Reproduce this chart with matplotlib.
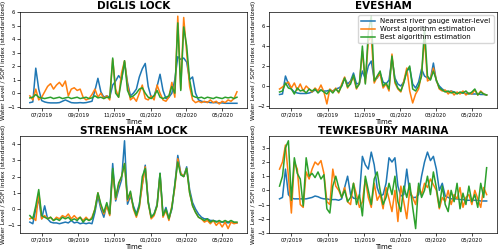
import matplotlib
matplotlib.use("Agg")
import matplotlib.pyplot as plt
import matplotlib.dates as mdates
import numpy as np
import pandas as pd

# sample dates (every 5 days)
dates = pd.date_range("2019-06-11", periods=71, freq="5D")

titles = ["DIGLIS LOCK", "EVESHAM", "STRENSHAM LOCK", "TEWKESBURY MARINA"]
labels = ["Nearest river gauge water-level", "Worst algorithm estimation",
          "Best algorithm estimation"]

# DIGLIS LOCK
dg_gauge = [-0.70, -0.65, 1.85, 0.3, -0.55, -0.65, -0.70, -0.72, -0.72, -0.72,
            -0.70, -0.60, -0.50, -0.60, -0.70, -0.72, -0.72, -0.70, -0.72, -0.70,
            -0.65, -0.60, 0.2, 1.1, 0.1, -0.3, -0.2, -0.3, 0.6, 0.9,
            1.3, 1.0, 2.3, 0.8, -0.2, 0.0, 0.3, 1.2, 1.8, 2.2,
            0.5, -0.3, -0.2, 0.5, 1.4, 0.2, -0.4, -0.3, 0.0, 1.0,
            2.7, 2.5, 2.6, 2.3, 1.0, 1.2, 0.0, -0.5, -0.6, -0.65,
            -0.65, -0.7, -0.7, -0.7, -0.72, -0.72, -0.75, -0.75, -0.75, -0.75, -0.75]
dg_worst = [-0.2, -0.5, 0.3, -0.5, -0.3, 0.1, 0.5, 0.7, 0.3, 0.6,
            0.8, 0.5, 0.9, -0.2, 0.3, 0.4, 0.2, 0.3, -0.3, -0.5,
            -0.4, -0.1, 0.3, -0.3, 0.0, -0.4, -0.2, -0.5, 2.5, 0.3,
            -0.3, 1.5, 2.4, 0.6, -0.5, -0.3, -0.6, 0.0, 0.6, -0.4,
            -0.5, -0.2, -0.5, 0.6, 0.0, -0.5, -0.6, -0.3, 0.8, -0.3,
            5.7, 0.3, 5.6, 3.0, 0.5, -0.5, -0.7, -0.6, -0.7, -0.6,
            -0.7, -0.5, -0.7, -0.6, -0.8, -0.6, -0.7, -0.5, -0.6, -0.4, 0.1]
dg_best = [-0.35, -0.3, -0.1, -0.3, -0.35, -0.4, -0.35, -0.3, -0.4, -0.35,
           -0.3, -0.4, -0.35, -0.3, -0.4, -0.35, -0.3, -0.4, -0.35, -0.3,
           -0.4, -0.35, -0.2, -0.35, -0.3, -0.4, -0.3, -0.35, 2.6, 0.0,
           -0.3, 1.0, 2.4, 0.2, -0.3, -0.2, 0.0, 0.3, 0.4, 0.0,
           -0.3, -0.4, -0.2, 0.2, -0.3, -0.4, -0.3, -0.2, 0.5, 0.0,
           5.2, 0.2, 4.9, 3.5, 1.0, -0.2, -0.3, -0.35, -0.3, -0.4,
           -0.3, -0.35, -0.4, -0.3, -0.35, -0.4, -0.3, -0.35, -0.3, -0.4, -0.3]

# EVESHAM
ev_gauge = [-0.85, -0.8, 1.0, 0.2, -0.3, -0.6, -0.7, -0.75, -0.75, -0.75,
            -0.7, -0.6, -0.4, -0.5, -0.4, -0.5, -0.5, -0.4, -0.5, -0.3,
            -0.2, 0.0, 0.8, 0.2, 0.5, 1.3, 0.2, 0.3, 1.5, 0.7,
            2.0, 2.5, 0.6, 0.8, 1.3, 0.4, 0.2, 0.6, 2.8, 0.8,
            0.2, 0.0, 0.4, 1.5, 1.8, 0.2, -0.2, 0.4, 1.7, 1.0,
            0.8, 0.7, 2.3, 0.5, 0.0, -0.3, -0.5, -0.6, -0.5, -0.6,
            -0.7, -0.7, -0.7, -0.75, -0.75, -0.8, -0.8, -0.8, -0.85, -0.85, -0.9]
ev_worst = [-0.3, -0.1, 0.2, 0.4, -0.2, 0.3, -0.4, 0.2, -0.5, 0.0,
            -0.3, -0.6, -0.2, -0.5, 0.1, -0.6, -1.8, -0.3, -0.6, -0.2,
            -0.7, 0.2, 0.9, -0.2, 0.4, 0.9, -0.3, 0.3, 3.5, 0.3,
            4.5, 5.0, 0.3, 0.9, 1.2, -0.2, 0.2, -0.5, 3.2, 0.3,
            -0.3, -0.6, 0.5, 1.8, -0.5, -1.7, -0.8, -0.3, 1.2, 4.8,
            0.5, 0.7, 1.8, 0.6, -0.3, -0.5, -0.4, -0.8, -0.5, -0.9,
            -0.6, -0.8, -0.5, -0.9, -0.7, -0.8, -0.4, -0.9, -0.5, -0.8, -0.9]
ev_best = [-0.6, -0.5, 0.3, -0.2, -0.3, -0.8, -0.2, -0.5, -0.4, -0.7,
           -0.3, -0.5, -0.3, -0.7, -0.4, -0.6, -0.8, -0.4, -0.7, -0.3,
           -0.6, 0.0, 0.8, -0.1, 0.2, 1.1, -0.2, 0.2, 4.0, 0.2,
           5.4, 7.0, 0.5, 1.0, 1.5, 0.0, 0.3, -0.3, 3.0, 0.5,
           -0.2, -0.5, 0.3, 1.5, 2.0, -0.3, -0.5, 0.0, 1.0, 5.8,
           1.0, 0.6, 1.5, 0.6, -0.2, -0.4, -0.6, -0.5, -0.7, -0.6,
           -0.8, -0.6, -0.7, -0.5, -0.8, -0.6, -0.3, -0.9, -0.6, -0.8, -0.9]

# STRENSHAM LOCK
st_gauge = [-0.8, -0.9, 0.0, 0.6, -0.6, 0.2, -0.6, -0.8, -0.85, -0.85,
            -0.9, -0.85, -0.8, -0.85, -0.7, -0.85, -0.8, -0.9, -0.85, -0.9,
            -0.85, -0.9, -0.2, 0.8, 0.0, -0.5, 0.3, -0.3, 2.8, 0.5,
            1.2, 1.8, 4.2, 0.3, 0.8, 0.2, -0.3, 0.3, 1.5, 2.7,
            0.5, -0.5, -0.3, 0.3, 2.2, -0.4, 0.1, -0.6, 0.0, 1.5,
            3.3, 2.2, 2.0, 2.6, 1.2, 0.4, 0.0, -0.3, -0.5, -0.6,
            -0.6, -0.7, -0.7, -0.75, -0.8, -0.8, -0.8, -0.85, -0.8, -0.85, -0.85]
st_worst = [-0.6, -0.5, -0.7, 1.0, -0.6, -0.4, -0.6, -0.5, -0.7, -0.5,
            -0.6, -0.4, -0.5, -0.3, -0.6, -0.4, -0.6, -0.5, -0.7, -0.5,
            -0.7, -0.5, 0.0, 1.0, 0.2, -0.3, 0.2, -0.4, 2.3, 0.6,
            1.5, 2.0, 2.8, 0.5, 1.0, 0.0, -0.5, 0.1, 1.5, 2.6,
            0.4, -0.6, -0.4, 0.2, 2.1, -0.5, -0.1, -0.7, 0.2, 1.3,
            3.1, 2.2, 2.0, 2.5, 1.0, 0.2, -0.2, -0.5, -0.6, -0.8,
            -0.7, -0.9, -0.7, -1.0, -0.8, -1.1, -0.8, -1.2, -0.8, -0.9, -0.85]
st_best = [-0.4, -0.6, 0.2, 1.2, -0.4, -0.5, -0.6, -0.5, -0.7, -0.6,
           -0.7, -0.5, -0.6, -0.5, -0.7, -0.6, -0.7, -0.5, -0.8, -0.6,
           -0.7, -0.6, 0.0, 1.0, 0.3, -0.2, 0.4, -0.3, 2.5, 0.7,
           1.6, 2.0, 2.8, 0.6, 1.1, 0.1, -0.4, 0.2, 2.0, 2.5,
           0.4, -0.5, -0.3, 0.2, 2.2, -0.4, 0.0, -0.6, 0.1, 1.5,
           2.9, 2.1, 2.0, 2.5, 1.0, 0.2, -0.2, -0.5, -0.6, -0.7,
           -0.6, -0.8, -0.7, -0.8, -0.7, -0.8, -0.7, -0.8, -0.7, -0.8, -0.8]

# TEWKESBURY MARINA
tw_gauge = [-0.6, -0.5, 1.5, -0.3, -0.55, -0.6, -0.6, -0.6, -0.6, -0.6,
            -0.55, -0.5, -0.4, -0.45, -0.55, -0.6, -0.6, -0.65, -0.65, -0.65,
            -0.7, -0.6, 0.2, 1.0, -0.3, -0.55, -0.6, -0.4, 2.4, 1.8,
            1.5, 2.7, 1.8, 0.2, -0.4, -0.3, 0.5, 2.3, 2.0, 2.3,
            0.3, -0.4, -0.3, 1.5, -0.2, -0.5, -0.5, -0.3, 1.0, 2.0,
            2.7, 2.1, 2.4, 1.5, 0.0, 0.5, -0.4, -0.5, -0.6, -0.6,
            -0.6, -0.65, -0.65, -0.7, -0.7, -0.7, -0.7, -0.7, -0.75, -0.75, -0.75]
tw_worst = [1.5, 2.0, 3.2, 1.0, -1.6, 2.0, 1.5, -1.0, -1.2, 1.3,
            0.8, 1.5, 2.0, 1.8, 2.1, 1.2, -0.8, -1.0, 1.5, 0.3,
            0.0, -0.5, 0.2, -0.8, -1.0, 0.5, -0.3, -1.2, -0.8, 0.8,
            -0.5, -1.2, 0.5, -0.7, -0.3, -1.3, 0.2, -0.6, -1.5, 0.0,
            -2.2, 0.3, -0.8, -2.0, 0.0, -0.5, -1.0, 0.3, -0.3, 0.5,
            0.2, 0.8, 0.4, 0.0, -1.3, -0.5, -0.8, 0.0, -1.0, -0.3,
            -0.6, 0.2, -1.2, -0.5, -0.3, -1.0, 0.0, -0.6, -1.2, 0.2, -0.3]
tw_best = [0.3, 1.0, 3.0, 3.5, -0.7, 2.3, 1.2, 0.8, -1.1, 2.3,
           1.0, 1.2, 0.9, 1.3, 0.8, 1.1, -1.3, -1.6, 0.3, 1.0,
           0.2, -0.5, 0.0, -0.8, -0.5, 0.5, -1.0, -0.3, -1.8, 1.0,
           0.0, -1.0, 0.8, 1.3, 0.0, -1.0, -0.5, 0.5, -0.3, 1.0,
           -0.8, -1.5, 0.3, -0.5, 0.5, -1.2, -2.7, 0.5, -0.5, 0.0,
           1.0, -0.3, 1.3, 0.2, -1.2, 0.3, -1.0, -1.5, 0.0, -0.8,
           0.5, -1.3, -0.2, -1.0, 0.3, -0.8, -0.3, -1.2, 0.5, -0.5, 1.6]

series = [(dg_gauge, dg_worst, dg_best), (ev_gauge, ev_worst, ev_best),
          (st_gauge, st_worst, st_best), (tw_gauge, tw_worst, tw_best)]
yticks = [np.arange(-1, 7, 1), np.arange(-2, 8, 2), np.arange(-1, 5, 1),
          np.arange(-3, 4, 1)]

fig, axes = plt.subplots(2, 2, figsize=(5, 2.5), dpi=100)
fig.subplots_adjust(left=0.039, right=0.994, top=0.953, bottom=0.068,
                    wspace=0.096, hspace=0.29)

for k, ax in enumerate(axes.flat):
    g, w, b = series[k]
    ax.plot(dates, g, color="tab:blue", lw=1.1, label=labels[0])
    ax.plot(dates, w, color="tab:orange", lw=1.1, label=labels[1])
    ax.plot(dates, b, color="tab:green", lw=1.1, label=labels[2])
    ax.set_title(titles[k], fontsize=7.5, fontweight="bold", pad=2)
    ax.set_xlabel("Time", fontsize=5)
    ax.set_ylabel("Water Level / SOFI index (standardized)", fontsize=4.3)
    ax.xaxis.set_label_coords(0.5, -0.115)
    ax.yaxis.set_label_coords(-0.058, 0.5)
    ax.set_yticks(yticks[k])
    ax.xaxis.set_major_locator(mdates.MonthLocator(bymonth=[1, 3, 5, 7, 9, 11]))
    ax.xaxis.set_major_formatter(mdates.DateFormatter("%m/%Y"))
    ax.tick_params(labelsize=3.8, length=2, width=0.5, pad=1)
    for s in ax.spines.values():
        s.set_linewidth(0.5)
    if k == 1:
        ax.legend(loc="upper right", fontsize=5, handlelength=2, borderpad=0.4,
                  labelspacing=0.3)

fig.savefig("out.png", dpi=100)
